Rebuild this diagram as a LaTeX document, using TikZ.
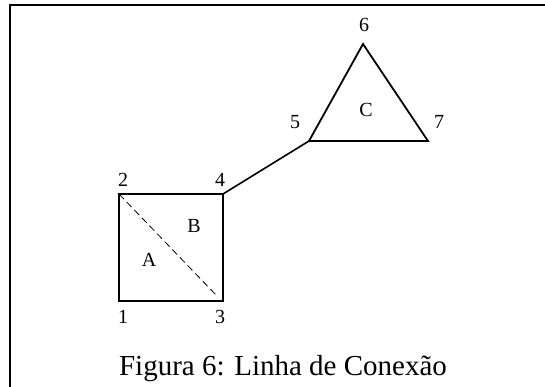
\documentclass[tikz,border=0pt]{standalone}
\usepackage{fontspec}
\setmainfont{Liberation Serif}

\begin{document}
\begin{tikzpicture}[x=1pt,y=-1pt,
  edge/.style={line width=1.8pt,line join=miter},
  conn/.style={line width=1.6pt},
  diag/.style={line width=0.8pt,dash pattern=on 7pt off 4pt},
  lbl/.style={anchor=base,inner sep=0pt,font=\fontsize{20}{24}\selectfont}]

% Fix the page size
\useasboundingbox (0,0) rectangle (545,387);

% Draw the frame
\draw[line width=2pt] (10,387) -- (10,5) -- (545,5);

% Corner points
\coordinate (p1) at (119,301);
\coordinate (p2) at (119,194);
\coordinate (p3) at (223,301);
\coordinate (p4) at (223,194);
\coordinate (p5) at (309,141);
\coordinate (p6) at (363,44);
\coordinate (p7) at (428,141);
\coordinate (d3) at (217,296);

% Draw the square
\draw[edge] (p1) -- (p2) -- (p4) -- (p3) -- cycle;

% Draw the diagonal
\draw[diag] (p2) -- (d3);

% Draw the triangle
\draw[edge] (p5) -- (p6) -- (p7) -- cycle;

% Draw the connection line
\draw[conn] (p4) -- (p5);

% Labels for the points
\node[lbl] (n1) at (123,323) {1};
\node[lbl] (n2) at (123,187) {2};
\node[lbl] (n3) at (220,323) {3};
\node[lbl] (n4) at (220,187) {4};
\node[lbl] (n5) at (295,129) {5};
\node[lbl] (n6) at (364,32) {6};
\node[lbl] (n7) at (439,129) {7};

% Labels for the regions
\node[lbl] (ra) at (149,266) {A};
\node[lbl] (rb) at (194,232) {B};
\node[lbl] (rc) at (366,117) {C};

% Caption
\node[anchor=base,inner sep=0pt,font=\fontsize{29}{34}\selectfont] (cap) at (283,375) {Figura 6: Linha de Conexão};

\end{tikzpicture}
\end{document}
